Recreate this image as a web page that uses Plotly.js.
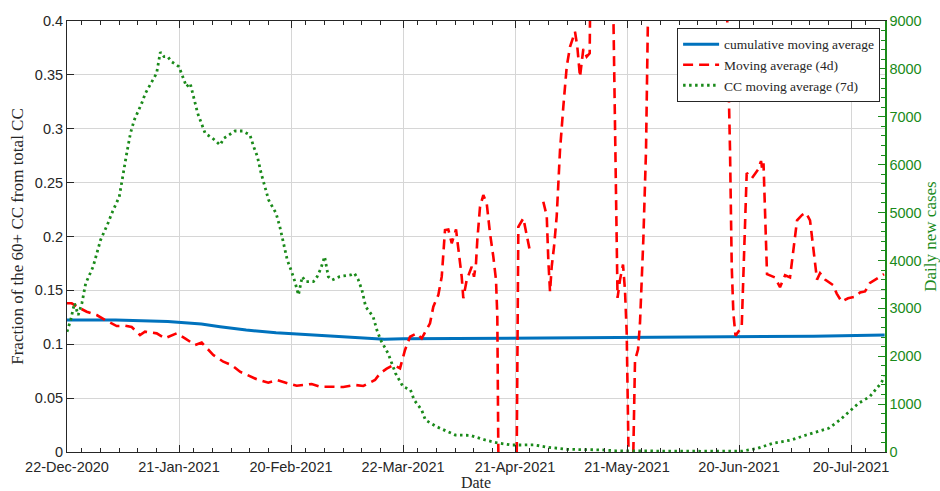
<!DOCTYPE html>
<html>
<head>
<meta charset="utf-8">
<script src="https://cdn.plot.ly/plotly-3.0.1.min.js"></script>
<style>html,body{margin:0;padding:0;background:#fff;}#chart{width:940px;height:491px;}</style>
</head>
<body>
<div id="chart"></div>
<script>
// ---- data (x = days since 22-Dec-2020) ----
const startDate = '2020-12-22';
const axisEndDay = 219.1;

const blueDays = [0, 13, 27, 36, 41, 48, 56, 70, 79, 85, 90, 120, 150, 180, 200, 219];
const blueVals = [0.1225, 0.1225, 0.121, 0.1188, 0.1163, 0.1132, 0.1107, 0.1077, 0.1055, 0.1046, 0.105, 0.1055, 0.106, 0.1068, 0.1075, 0.1086];

const redDays = [0, 1.26, 3.48, 5.28, 7.96, 10.18, 13.31, 15.54, 17.33, 19.55, 20.89, 24.03, 26.25, 29.38, 31.61, 34.29, 36.08, 39.19, 41.87, 44.12, 46.34, 49.02, 50.81, 53.92, 56.17, 59.73, 61.53, 65.54, 67.77, 71.33, 74.01, 77.14, 79.37, 82.5, 83.84, 85.63, 87.4, 89.2, 90.54, 91.88, 93.67, 95.01, 97.23, 98.12, 99.46, 100.37, 100.8, 101.25, 102.13, 103.05, 104.2, 104.81, 105.72, 106.15, 107.06, 108.4, 109.02, 109.55, 109.9, 110.63, 111.51, 112.42, 113.3, 114.19, 114.91, 115.26, 115.53,
  118,
  120.46, 120.89, 122.23, 123.14, 124.02,
  126,
  127.58, 128.5, 128.92, 129.38, 129.83, 130.45, 131.17, 132.05, 132.94, 133.85, 134.73, 136.07, 136.69, 137.41, 137.87, 138.3, 139.21, 140.0, 140.49, 142.77, 145.71, 146.33, 147.46, 148.13, 148.93, 149.46, 149.92, 150.4,
  151,
  151.69, 152.14, 152.95, 153.48, 154.37, 155.09, 155.63, 156.7, 166.88, 176.12, 176.79, 177.59, 178.05, 178.48, 179.06, 180.72, 182.06, 183.4, 185.09, 185.89, 186.24, 186.56, 187.5, 189.64, 190.98, 192.32, 193.66, 195.54, 196.88, 197.95, 199.02, 200.36, 200.89, 201.7, 203.04, 205.18, 206.17, 207.51, 209.2, 211.07, 212.41, 213.75, 215.09, 217.77, 218.84];
const redVals = [0.138, 0.138, 0.1334, 0.1302, 0.1271, 0.1225, 0.1169, 0.1172, 0.116, 0.1086, 0.1117, 0.1101, 0.1055, 0.1101, 0.1055, 0.0993, 0.1015, 0.09, 0.0838, 0.0807, 0.0745, 0.0699, 0.0675, 0.0643, 0.0668, 0.0631, 0.0615, 0.0631, 0.0606, 0.0606, 0.0603, 0.0622, 0.0613, 0.0668, 0.073, 0.0773, 0.0807, 0.0777, 0.0947, 0.107, 0.110, 0.1055, 0.1194, 0.1349, 0.1457, 0.1627, 0.1844, 0.206, 0.2065, 0.1937, 0.2065, 0.1905, 0.1627, 0.1427, 0.1596, 0.172, 0.1627, 0.1751, 0.1967, 0.2277, 0.2385, 0.2308, 0.203, 0.1813, 0.1596, 0.1256, 0,
  null,
  0, 0.209, 0.2169, 0.2, 0.186,
  null,
  0.2323, 0.219, 0.178, 0.1488, 0.172, 0.1905, 0.219, 0.280, 0.3205, 0.3576, 0.376, 0.390, 0.376, 0.348, 0.362, 0.374, 0.367, 0.370, 0.55, 0.8, 0.9, 0.41, 0.143, 0.16, 0.174, 0.15, 0.11, 0,
  null,
  0, 0.085, 0.095, 0.12, 0.197, 0.28, 0.41, 0.9, 0.8, 0.9, 0.41, 0.28, 0.172, 0.129, 0.108, 0.116, 0.259, 0.254, 0.262, 0.27, 0.262, 0.268, 0.165, 0.162, 0.153, 0.164, 0.162, 0.215, 0.22, 0.222, 0.215, 0.172, 0.16, 0.166, 0.160, 0.155, 0.147, 0.1395, 0.1427, 0.144, 0.148, 0.149, 0.157, 0.1627, 0.165];

const greenDays = [0, 1, 2, 3, 4, 5, 7, 8, 9, 11, 12, 14, 15, 16, 17, 18, 20, 21, 22, 24, 25, 26, 27, 28, 30, 31, 32, 33, 34, 35, 36, 37, 39, 41, 42, 44, 45, 47, 49, 50, 51, 52, 53, 54, 56, 57, 58, 59, 60, 61, 62, 63, 64, 66, 67, 68, 69, 70, 71, 73, 74, 76, 77, 78, 79, 80, 82, 83, 84, 86, 87, 88, 90, 92, 93, 95, 96, 99, 102, 104, 108, 112, 115, 119, 122, 125, 129, 134, 138, 143, 147, 156, 170, 181, 185, 189, 194, 198, 203, 204, 207, 210, 212, 215, 218, 219];
const greenVals = [2510, 2760, 3110, 2860, 3110, 3520, 3870, 4150, 4430, 4780, 4985, 5330, 5820, 6240, 6655, 6930, 7280, 7490, 7630, 7910, 8350, 8255, 8255, 8150, 8046, 7837, 7628, 7698, 7350, 7073, 6864, 6655, 6551, 6411, 6551, 6655, 6703, 6703, 6620, 6376, 6167, 5820, 5540, 5262, 4985, 4705, 4358, 4009, 3800, 3570, 3280, 3661, 3557, 3557, 3661, 3835, 4078, 3661, 3592, 3661, 3675, 3696, 3731, 3600, 3383, 3034, 2825, 2547, 2339, 2061, 1852, 1643, 1364, 1295, 1086, 877, 668, 529, 424, 355, 348, 251, 195, 146, 146, 150, 97, 56, 50, 45, 25, 15, 15, 20, 77, 181, 251, 355, 459, 494, 668, 877, 1016, 1155, 1434, 1573];

const seriesNames = ['cumulative moving average', 'Moving average (4d)', 'CC moving average (7d)'];
const xTitle = 'Date';
const yTitle = 'Fraction of the 60+ CC from total CC';
const y2Title = 'Daily new cases';

// ---- helpers ----
const DAY = 86400000;
const base = Date.parse(startDate + 'T00:00:00Z');
const toMs = d => base + d * DAY;

// minor ticks: every 5 days from 26-Dec, skipping the ones one day before a major tick
const minorTicks = [];
for (let d = 4; d <= axisEndDay; d += 5) { if ((d + 1) % 30 !== 0) minorTicks.push(toMs(d)); }

const GREEN = '#1a8a1a';
const AX = '#262626';
const GRID = '#d6d6d6';
const serif = 'Liberation Serif, Times New Roman, serif';

const traces = [
  {x: blueDays.map(toMs), y: blueVals, name: seriesNames[0], mode: 'lines', type: 'scatter',
   line: {color: '#0072BD', width: 3}},
  {x: redDays.map(toMs), y: redVals, name: seriesNames[1], mode: 'lines', type: 'scatter',
   line: {color: '#FF0000', width: 2.6, dash: '10px,6px'}, connectgaps: false},
  {x: greenDays.map(toMs), y: greenVals, name: seriesNames[2], mode: 'lines', type: 'scatter', yaxis: 'y2',
   line: {color: GREEN, width: 2.8, dash: '2.5px,3.5px'}}
];

const layout = {
  width: 940, height: 491,
  margin: {l: 67, r: 55, t: 21, b: 39},
  paper_bgcolor: '#ffffff', plot_bgcolor: '#ffffff',
  font: {family: 'Liberation Sans, Arial, sans-serif', size: 14, color: AX},
  showlegend: true,
  legend: {x: 0.994, y: 0.984, xanchor: 'right', yanchor: 'top', bgcolor: '#ffffff',
    bordercolor: AX, borderwidth: 1, itemwidth: 36, tracegroupgap: 0,
    font: {family: serif, size: 13.5, color: AX}},
  xaxis: {type: 'date', range: [toMs(0), toMs(axisEndDay)], tick0: startDate, dtick: 30 * DAY,
    tickformat: '%d-%b-%Y', ticks: 'inside', ticklen: 7, tickcolor: AX, tickwidth: 1,
    showline: true, linecolor: AX, linewidth: 1, mirror: 'ticks',
    showgrid: true, gridcolor: GRID, gridwidth: 1, zeroline: false,
    ticklabelstandoff: 2,
    tickfont: {size: 14.5, color: AX},
    title: {text: xTitle, font: {family: serif, size: 16, color: AX}, standoff: 1},
    minor: {tickmode: 'array', tickvals: minorTicks, ticks: 'inside', ticklen: 4, tickcolor: AX, showgrid: false}},
  yaxis: {range: [0, 0.4], dtick: 0.05, ticks: 'inside', ticklen: 7, tickcolor: AX,
    showline: true, linecolor: AX, linewidth: 1, showgrid: true, gridcolor: GRID, gridwidth: 1, zeroline: false,
    tickfont: {size: 14.5, color: AX},
    title: {text: yTitle, font: {family: serif, size: 17, color: AX}, standoff: 6}},
  yaxis2: {overlaying: 'y', side: 'right', range: [0, 9000], dtick: 1000, ticks: 'inside', ticklen: 7,
    tickcolor: GREEN, showline: true, linecolor: GREEN, linewidth: 1.5, showgrid: false, zeroline: false,
    tickfont: {size: 14.5, color: GREEN},
    title: {text: y2Title, font: {family: serif, size: 17, color: GREEN}, standoff: 6},
    minor: {dtick: 200, ticks: 'inside', ticklen: 4, tickcolor: GREEN, showgrid: false}}
};

Plotly.newPlot('chart', traces, layout, {displayModeBar: false, staticPlot: true});
</script>
</body>
</html>
